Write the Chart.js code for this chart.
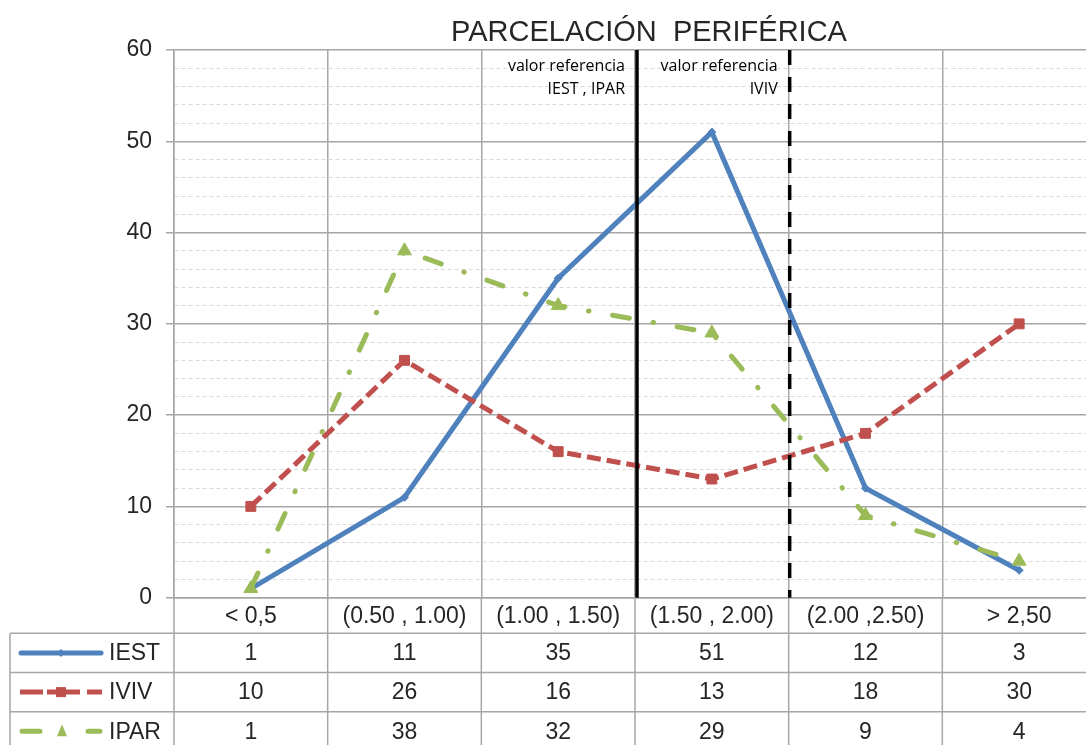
<!DOCTYPE html>
<html>
<head>
<meta charset="utf-8">
<script src="https://cdn.jsdelivr.net/npm/chart.js@4"></script>
<style>
  html, body { margin: 0; padding: 0; background: #fff; overflow: hidden; }
  #wrap { width: 1096px; height: 745px; overflow: visible; }
  #chart { display: block; width: 1096px !important; height: 745px !important; max-width: none !important; }
</style>
</head>
<body>
<div id="wrap"><canvas id="chart" width="1096" height="745"></canvas></div>
<script>
// --- data ---
const categories = ["< 0,5", "(0.50 , 1.00)", "(1.00 , 1.50)", "(1.50 , 2.00)", "(2.00 ,2.50)", "> 2,50"];
const iest = [1, 11, 35, 51, 12, 3];
const iviv = [10, 26, 16, 13, 18, 30];
const ipar = [1, 38, 32, 29, 9, 4];
const seriesNames = ["IEST", "IVIV", "IPAR"];
const seriesColors = ["#4f81bd", "#c0504d", "#9bbb59"];
const titleText = "PARCELACIÓN  PERIFÉRICA";
const refNotes = [["valor referencia", "IEST , IPAR"], ["valor referencia", "IVIV"]];

const FONT = "'Liberation Sans', Arial, sans-serif";
const TEXT = "#262626";
const GRID = "#a6a6a6";

// title, reference lines and the data table under the plot
const extras = {
  id: "extras",
  afterDatasetsDraw(chart) {
    const ctx = chart.ctx;
    const x = chart.scales.x;
    const area = chart.chartArea;
    const half = (x.getPixelForValue(1) - x.getPixelForValue(0)) / 2;
    const solidX = x.getPixelForValue(2) + half + 2;
    const dashX = x.getPixelForValue(3) + half + 1;
    ctx.save();
    ctx.strokeStyle = "#000";
    ctx.lineWidth = 3.5;
    ctx.beginPath();
    ctx.moveTo(solidX, area.top);
    ctx.lineTo(solidX, area.bottom);
    ctx.stroke();
    ctx.setLineDash([15, 12]);
    ctx.beginPath();
    ctx.moveTo(dashX, area.top);
    ctx.lineTo(dashX, area.bottom);
    ctx.stroke();
    ctx.setLineDash([]);

    ctx.fillStyle = "#000";
    ctx.font = "16px 'Open Sans', sans-serif";
    ctx.textAlign = "right";
    ctx.textBaseline = "alphabetic";
    [solidX, dashX].forEach((lx, k) => {
      ctx.fillText(refNotes[k][0], lx - 12, 71);
      ctx.fillText(refNotes[k][1], lx - 12, 94);
    });
    ctx.restore();
  },
  afterDraw(chart) {
    const ctx = chart.ctx;
    const x = chart.scales.x;
    const area = chart.chartArea;
    const rows = [iest, iviv, ipar];
    const half = (x.getPixelForValue(1) - x.getPixelForValue(0)) / 2;
    const headerBottom = area.bottom + 35.6;
    const rowH = 39.2;

    ctx.save();
    // title
    ctx.fillStyle = TEXT;
    ctx.font = "29px " + FONT;
    ctx.textAlign = "center";
    ctx.textBaseline = "middle";
    ctx.fillText(titleText, 649, 33);

    // table lines
    ctx.strokeStyle = GRID;
    ctx.lineWidth = 1.5;
    ctx.beginPath();
    for (let r = 0; r <= 3; r++) {
      const y = headerBottom + r * rowH;
      ctx.moveTo(10, y);
      ctx.lineTo(chart.width, y);
    }
    ctx.moveTo(10, headerBottom);
    ctx.lineTo(10, chart.height);
    for (let i = 0; i <= categories.length; i++) {
      const bx = x.getPixelForValue(i) - half;
      ctx.moveTo(bx, area.bottom);
      ctx.lineTo(bx, chart.height);
    }
    ctx.stroke();

    // table text
    ctx.fillStyle = TEXT;
    ctx.font = "23px " + FONT;
    ctx.textAlign = "center";
    categories.forEach((c, i) => {
      ctx.fillText(c, x.getPixelForValue(i), (area.bottom + headerBottom) / 2 + 1);
    });
    rows.forEach((vals, r) => {
      const cy = headerBottom + r * rowH + rowH / 2 + 1;
      vals.forEach((v, i) => ctx.fillText(String(v), x.getPixelForValue(i), cy));
      ctx.textAlign = "left";
      ctx.fillText(seriesNames[r], 109, cy);
      ctx.textAlign = "center";
    });

    // legend keys
    const keyY = r => headerBottom + r * rowH + rowH / 2;
    ctx.lineWidth = 5;
    // IEST
    let y = keyY(0);
    ctx.strokeStyle = seriesColors[0];
    ctx.fillStyle = seriesColors[0];
    ctx.lineCap = "round";
    ctx.beginPath(); ctx.moveTo(21, y); ctx.lineTo(101, y); ctx.stroke();
    ctx.beginPath();
    ctx.moveTo(61, y - 4); ctx.lineTo(65, y); ctx.lineTo(61, y + 4); ctx.lineTo(57, y);
    ctx.closePath(); ctx.fill();
    // IVIV
    y = keyY(1);
    ctx.strokeStyle = seriesColors[1];
    ctx.fillStyle = seriesColors[1];
    ctx.lineCap = "butt";
    ctx.beginPath();
    [[20, 43], [47, 56], [66, 80], [87, 102]].forEach(s => { ctx.moveTo(s[0], y); ctx.lineTo(s[1], y); });
    ctx.stroke();
    ctx.fillRect(56, y - 5, 10, 10);
    // IPAR
    y = keyY(2);
    ctx.strokeStyle = seriesColors[2];
    ctx.fillStyle = seriesColors[2];
    ctx.lineCap = "round";
    ctx.beginPath();
    ctx.moveTo(22, y); ctx.lineTo(40, y);
    ctx.moveTo(88, y); ctx.lineTo(100, y);
    ctx.stroke();
    ctx.beginPath();
    ctx.moveTo(62, y - 7); ctx.lineTo(67, y + 5); ctx.lineTo(57, y + 5);
    ctx.closePath(); ctx.fill();
    ctx.restore();
  }
};

new Chart(document.getElementById("chart"), {
  type: "line",
  data: {
    labels: categories,
    datasets: [
      {
        label: seriesNames[0],
        data: iest,
        borderColor: seriesColors[0],
        backgroundColor: seriesColors[0],
        borderWidth: 5,
        pointStyle: "rectRot",
        pointRadius: 4,
        pointBorderWidth: 1,
        order: 3
      },
      {
        label: seriesNames[1],
        data: iviv,
        borderColor: seriesColors[1],
        backgroundColor: seriesColors[1],
        borderWidth: 5,
        borderDash: [14, 6],
        pointStyle: "rect",
        pointRadius: 7,
        pointBorderWidth: 1,
        order: 2
      },
      {
        label: seriesNames[2],
        data: ipar,
        borderColor: seriesColors[2],
        backgroundColor: seriesColors[2],
        borderWidth: 5,
        borderDash: [17, 24, 0.5, 24],
        borderCapStyle: "round",
        pointStyle: "triangle",
        pointRadius: 8,
        pointBorderWidth: 1,
        order: 1
      }
    ]
  },
  options: {
    responsive: false,
    devicePixelRatio: 1,
    animation: false,
    layout: { autoPadding: false, padding: { top: 50, left: 0, right: 0, bottom: 0 } },
    plugins: {
      legend: { display: false },
      title: { display: false },
      tooltip: { enabled: false }
    },
    scales: {
      x: {
        offset: true,
        grid: { offset: true, color: GRID, lineWidth: 1.5, drawTicks: false },
        border: { color: GRID, width: 1.5 },
        ticks: { display: false },
        afterFit: s => { s.height = 147.3; }
      },
      y: {
        min: 0,
        max: 60,
        afterFit: s => { s.width = 174; },
        ticks: {
          stepSize: 2,
          autoSkip: false,
          padding: 14,
          color: TEXT,
          font: { family: FONT, size: 23 },
          callback: v => (v % 10 === 0 ? v : "")
        },
        grid: {
          color: c => (c.tick && c.tick.value % 10 !== 0 ? "#d9d9d9" : GRID),
          lineWidth: c => (c.tick && c.tick.value % 10 !== 0 ? 1 : 1.5),
          tickLength: 8,
          tickColor: c => (c.tick && c.tick.value % 10 !== 0 ? "rgba(0,0,0,0)" : GRID),
          tickWidth: 1.5
        },
        border: {
          color: GRID,
          width: 1.5,
          dash: c => (c.tick && c.tick.value % 10 !== 0 ? [4, 3] : [])
        }
      }
    }
  },
  plugins: [extras]
});
</script>
</body>
</html>
